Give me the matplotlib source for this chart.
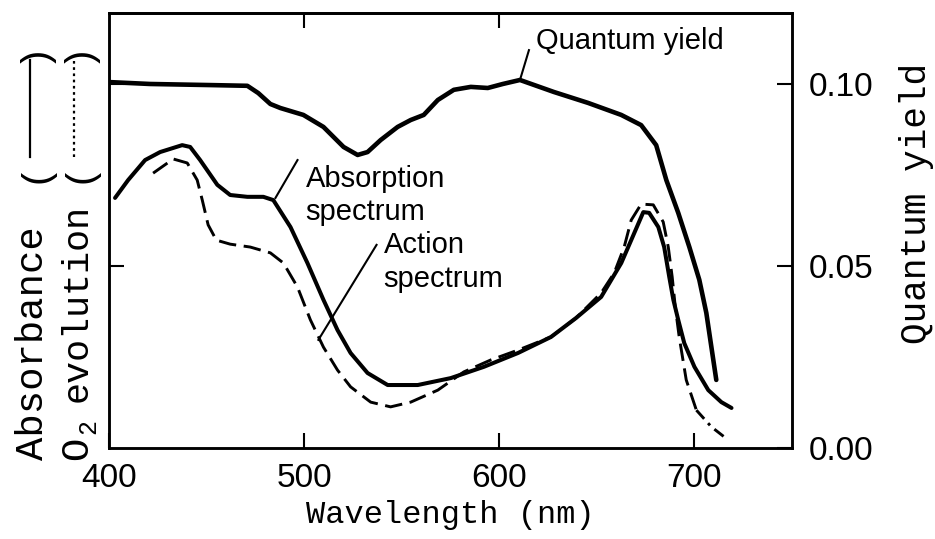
import matplotlib
matplotlib.use("Agg")
import matplotlib.pyplot as plt
from matplotlib.lines import Line2D

# Quantum yield (right axis)
qy_wl = [401.0, 421.1, 451.9, 470.9, 476.5, 482.7, 487.8, 499.6, 509.9, 520.2,
         527.4, 532.5, 539.2, 547.9, 554.6, 561.3, 568.5, 576.7, 585.4, 594.1,
         601.8, 610.6, 628.0, 645.5, 662.5, 672.7, 680.4, 685.6, 691.7, 697.4,
         702.5, 706.1, 708.7, 711.2]
qy_val = [0.1005, 0.1000, 0.0997, 0.0995, 0.0975, 0.0945, 0.0934, 0.0915, 0.0882, 0.0827,
          0.0805, 0.0813, 0.0846, 0.0882, 0.0901, 0.0915, 0.0956, 0.0984, 0.0992, 0.0989,
          0.1000, 0.1011, 0.0978, 0.0948, 0.0915, 0.0887, 0.0832, 0.0736, 0.0646, 0.0552,
          0.0462, 0.0371, 0.0277, 0.0187]

# Absorption spectrum (left axis, relative units)
abs_wl = [403.1, 409.8, 418.5, 426.2, 437.5, 441.6, 446.7, 455.5, 462.1, 470.9,
          479.1, 484.2, 493.0, 501.7, 509.9, 517.1, 523.8, 532.5, 542.8, 558.2,
          575.1, 592.1, 609.6, 626.5, 639.3, 652.2, 662.5, 667.6, 673.8, 676.8,
          681.5, 684.5, 687.1, 689.2, 691.7, 694.8, 700.0, 707.1, 713.8, 719.0]
abs_val = [0.687, 0.736, 0.791, 0.813, 0.832, 0.827, 0.791, 0.723, 0.695, 0.690,
           0.690, 0.681, 0.607, 0.508, 0.407, 0.324, 0.261, 0.206, 0.173, 0.173,
           0.192, 0.223, 0.261, 0.305, 0.357, 0.415, 0.508, 0.571, 0.648, 0.646,
           0.607, 0.552, 0.470, 0.407, 0.352, 0.288, 0.223, 0.159, 0.126, 0.110]

# Action spectrum (O2 evolution, left axis, relative units)
act_wl = [422.6, 432.9, 440.1, 445.2, 447.8, 450.8, 455.0, 462.1, 472.4, 482.7,
          489.4, 496.6, 503.2, 509.9, 517.1, 523.8, 534.1, 544.3, 554.6, 568.5,
          581.8, 595.7, 609.6, 626.5, 639.3, 652.2, 658.9, 664.0, 667.6, 672.7,
          678.9, 684.0, 686.6, 688.6, 690.2, 692.2, 695.8, 701.0]
act_val = [0.755, 0.794, 0.783, 0.736, 0.681, 0.613, 0.571, 0.560, 0.552, 0.536,
           0.508, 0.442, 0.352, 0.277, 0.214, 0.168, 0.126, 0.113, 0.126, 0.159,
           0.209, 0.242, 0.269, 0.305, 0.357, 0.426, 0.481, 0.552, 0.626, 0.670,
           0.668, 0.621, 0.552, 0.470, 0.387, 0.305, 0.187, 0.104]
act_tail_wl = [701.0, 708.7, 715.4]
act_tail_val = [0.104, 0.058, 0.030]

x_ticks = [400, 500, 600, 700]
top_ticks = [500, 600]
qy_ticks = [0.00, 0.05, 0.10]
qy_ticklabels = ["0.00", "0.05", "0.10"]

W, H = 935, 539
fig = plt.figure(figsize=(W / 100, H / 100), dpi=100)
L, R, T, B = 109, 792, 13, 448
ax = fig.add_axes([L / W, 1 - B / H, (R - L) / W, (B - T) / H])
ax2 = ax.twinx()

ax.set_xlim(400, 750)
ax.set_ylim(0, 1.195)
ax2.set_ylim(0, 0.1195)

ax.plot(abs_wl, abs_val, color="black", lw=2.9, solid_capstyle="round",
        solid_joinstyle="round")
ax.plot(act_wl, act_val, color="black", lw=2.1, dashes=(6, 2.6))
ax.plot(act_tail_wl, act_tail_val, color="black", lw=2.1, dashes=(4, 2, 1, 2))
ax2.plot(qy_wl, qy_val, color="black", lw=3.3, solid_capstyle="round",
         solid_joinstyle="round")

# spines and ticks
for a in (ax, ax2):
    for s in a.spines.values():
        s.set_linewidth(1.8)
ax.set_xticks(x_ticks)
ax.set_xticklabels([str(v) for v in x_ticks], fontfamily="Liberation Sans", fontsize=24)
ax.tick_params(axis="x", direction="in", length=11, width=1.5, pad=11)
top = ax.secondary_xaxis("top")
top.set_xticks(top_ticks)
top.set_xticklabels([])
top.tick_params(direction="in", length=11, width=1.5)
top.spines["top"].set_linewidth(1.8)
ax.set_yticks([0.5, 1.0])
ax.set_yticklabels([])
ax.tick_params(axis="y", direction="in", length=11, width=1.5)
ax2.set_yticks(qy_ticks)
ax2.set_yticklabels(qy_ticklabels, fontfamily="Liberation Sans", fontsize=24)
ax2.tick_params(axis="y", direction="in", length=11, width=1.5, pad=12)

ax.set_xlabel("Wavelength (nm)", fontfamily="Liberation Mono", fontsize=23,
              labelpad=4)

# curve annotations
afont = dict(fontfamily="Liberation Sans", fontsize=21, color="black")
ax2.text(618.8, 0.1096, "Quantum yield", va="baseline", ha="left", **afont)
ax2.plot([615.2, 610.6], [0.1093, 0.1011], color="black", lw=1.5)
ax.text(500.7, 0.717, "Absorption", va="baseline", ha="left", **afont)
ax.text(500.7, 0.626, "spectrum", va="baseline", ha="left", **afont)
ax.plot([496.6, 485.3], [0.791, 0.687], color="black", lw=1.5)
ax.text(540.7, 0.536, "Action", va="baseline", ha="left", **afont)
ax.text(540.7, 0.442, "spectrum", va="baseline", ha="left", **afont)
ax.plot([537.1, 507.3], [0.558, 0.297], color="black", lw=1.5)

# right axis label
fig.text(926 / W, 1 - 203 / H, "Quantum yield", fontfamily="Liberation Mono",
         fontsize=26, rotation=90, rotation_mode="anchor", ha="center",
         va="baseline")

# two-line left axis label with line-style keys
def vtext(xb, yb, s, size=28, ha="left"):
    fig.text(xb / W, 1 - yb / H, s, fontfamily="Liberation Mono", fontsize=size,
             rotation=90, rotation_mode="anchor", ha=ha, va="baseline",
             color="black")

vtext(43, 460, "Absorbance")
vtext(87, 460, "O")
vtext(95, 434, "2", size=18)
vtext(87, 402, "evolution", size=26.5)
for xb, dotted in ((43, False), (87, True)):
    vtext(xb, 183, "(")
    vtext(xb, 40, ")", ha="right")
    key = dict(dashes=(1.2, 1.6)) if dotted else {}
    fig.add_artist(Line2D([(xb - 13) / W] * 2, [1 - 157 / H, 1 - 60 / H],
                          transform=fig.transFigure, color="black", lw=1.6,
                          **key))

fig.savefig("out.png", dpi=100, facecolor="white")
